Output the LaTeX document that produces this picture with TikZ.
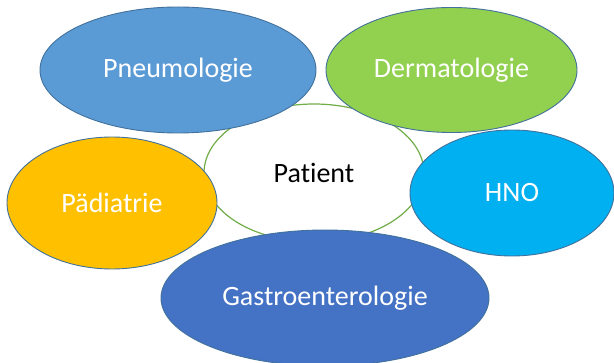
\documentclass[tikz,border=0pt]{standalone}
\usepackage{fontspec}
\setmainfont{Carlito}[Ligatures={NoCommon}]
\usetikzlibrary{shapes.geometric}
\definecolor{cPneu}{HTML}{5B9BD5}
\definecolor{cDerm}{HTML}{92D050}
\definecolor{cPaed}{HTML}{FFC000}
\definecolor{cHNO}{HTML}{00B0F0}
\definecolor{cGast}{HTML}{4472C4}
\definecolor{cEdge}{HTML}{41719C}
\definecolor{cGreen}{HTML}{70AD47}
\tikzset{
  field/.style={ellipse, draw=cEdge, line width=0.9pt, inner sep=0pt, text=white, font=\fontsize{28}{30}\selectfont},
  centre/.style={ellipse, draw=cGreen, line width=1.2pt, fill=white, inner sep=0pt, text=black, font=\fontsize{28}{30}\selectfont}
}
\begin{document}
\begin{tikzpicture}[x=1pt,y=-1pt]
\useasboundingbox (0,0) rectangle (614,363);
\clip (0,0) rectangle (614,363);
\node[centre, minimum width=220pt, minimum height=138pt] (pat) at (314,173) {Patient};
\node[field, fill=cPneu, minimum width=276pt, minimum height=126pt] (pneu) at (178,70) {Pneumologie};
\node[field, fill=cDerm, minimum width=251pt, minimum height=125pt] (derm) at (451.5,70) {Dermatologie};
\node[field, fill=cPaed, minimum width=210pt, minimum height=132pt] (paed) at (112,203) {Pädiatrie};
\node[field, fill=cHNO, minimum width=204pt, minimum height=126pt] (hno) at (512,193) {HNO};
\node[field, fill=cGast, minimum width=328pt, minimum height=136pt] (gast) at (325,298) {Gastroenterologie};
\end{tikzpicture}
\end{document}
